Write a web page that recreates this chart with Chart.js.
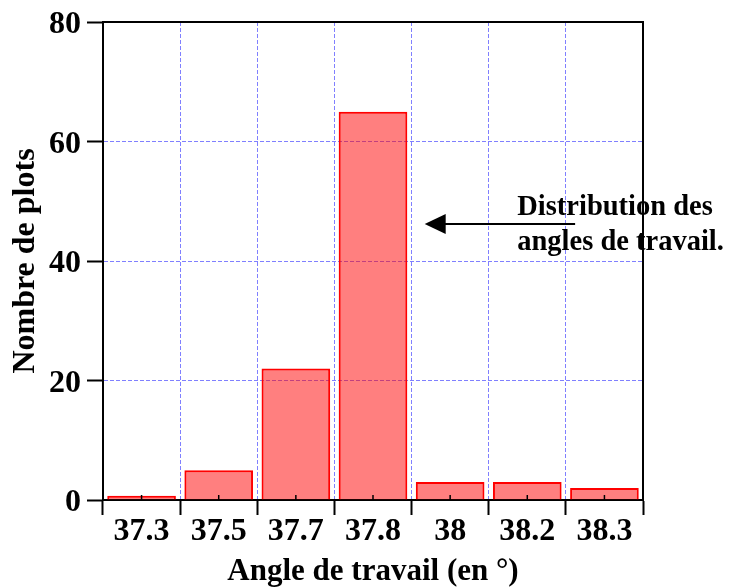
<!DOCTYPE html>
<html lang="fr">
<head>
<meta charset="UTF-8">
<title>Distribution des angles de travail</title>
<script src="https://cdn.jsdelivr.net/npm/chart.js"></script>
<style>
  * { margin: 0; padding: 0; }
  body { background: #fff; width: 732px; height: 588px; overflow: hidden; }
  #wrap { width: 732px; height: 588px; }
</style>
</head>
<body>
<div id="wrap"><canvas id="chart"></canvas></div>
<script>
// données
const angles = ['37.3', '37.5', '37.7', '37.8', '38', '38.2', '38.3'];
const nombrePlots = [0.7, 5, 22, 65, 3, 3, 2];
const yTicks = [0, 20, 40, 60, 80];

// annotation (en unités des axes : index de catégorie / nombre de plots)
const noteLignes = ['Distribution des', 'angles de travail.'];
const noteTexteX = 4.87;
const noteTexteY = [47.7, 41.8];
const flecheDe = 5.62, flecheA = 3.67, flecheY = 46.2;

const serif = "'Liberation Serif', 'Times New Roman', serif";
const bleuGrille = '#8080ff';

const cadre = {
  id: 'cadre',
  afterDatasetsDraw(chart) {
    const { ctx, chartArea: a, scales: { x } } = chart;
    ctx.save();
    ctx.strokeStyle = '#000';
    ctx.lineWidth = 2;
    ctx.beginPath();
    ctx.moveTo(a.left, a.top); ctx.lineTo(a.right, a.top); ctx.lineTo(a.right, a.bottom);
    ctx.stroke();
    // petites graduations au centre des catégories
    ctx.lineWidth = 1.5;
    angles.forEach((_, i) => {
      const px = x.getPixelForValue(i);
      ctx.beginPath(); ctx.moveTo(px, a.bottom); ctx.lineTo(px, a.bottom - 5); ctx.stroke();
    });
    ctx.restore();
  },
  afterDraw(chart) {
    const { ctx, scales: { x, y } } = chart;
    ctx.save();
    ctx.fillStyle = '#000';
    ctx.strokeStyle = '#000';
    ctx.font = 'bold 28.5px ' + serif;
    ctx.textBaseline = 'alphabetic';
    noteLignes.forEach((t, i) => ctx.fillText(t, x.getPixelForValue(noteTexteX), y.getPixelForValue(noteTexteY[i])));
    const x1 = x.getPixelForValue(flecheDe), x2 = x.getPixelForValue(flecheA), py = y.getPixelForValue(flecheY);
    ctx.lineWidth = 2;
    ctx.beginPath(); ctx.moveTo(x1, py); ctx.lineTo(x2 + 18, py); ctx.stroke();
    ctx.beginPath(); ctx.moveTo(x2, py); ctx.lineTo(x2 + 21, py - 10); ctx.lineTo(x2 + 21, py + 10); ctx.closePath(); ctx.fill();
    ctx.restore();
  }
};

new Chart(document.getElementById('chart'), {
  type: 'bar',
  data: {
    labels: angles,
    datasets: [{
      data: nombrePlots,
      backgroundColor: 'rgba(255,0,0,0.5)',
      borderColor: '#ff0000',
      borderWidth: 2,
      barPercentage: 0.89,
      categoryPercentage: 1
    }]
  },
  options: {
    responsive: true,
    maintainAspectRatio: false,
    animation: false,
    events: [],
    layout: { padding: { top: 22, right: 89, left: 0, bottom: 0 } },
    plugins: { legend: { display: false }, tooltip: { enabled: false } },
    scales: {
      x: {
        afterFit: s => { s.height = 88; },
        grid: { color: bleuGrille, lineWidth: 1, tickLength: 15, tickColor: '#000', tickWidth: 2, offset: true },
        border: { color: '#000', width: 2, dash: [4, 2] },
        ticks: { color: '#000', padding: -2, font: { family: serif, size: 32, weight: 'bold' } },
        title: { display: true, text: 'Angle de travail (en °)', color: '#000', padding: { top: 0, bottom: -3 }, font: { family: serif, size: 31, weight: 'bold' } }
      },
      y: {
        min: 0, max: 80,
        afterFit: s => { s.width = 103; },
        afterBuildTicks: s => { s.ticks = yTicks.map(v => ({ value: v })); },
        grid: { color: bleuGrille, lineWidth: 1, tickLength: 16, tickColor: '#000', tickWidth: 2 },
        border: { color: '#000', width: 2, dash: [4, 2] },
        ticks: { color: '#000', padding: 6, labelOffset: 3, font: { family: serif, size: 32, weight: 'bold', lineHeight: 0.85 } },
        title: { display: true, text: 'Nombre de plots', color: '#000', padding: { top: 7, bottom: 0 }, font: { family: serif, size: 32, weight: 'bold' } }
      }
    }
  },
  plugins: [cadre]
});
</script>
</body>
</html>
